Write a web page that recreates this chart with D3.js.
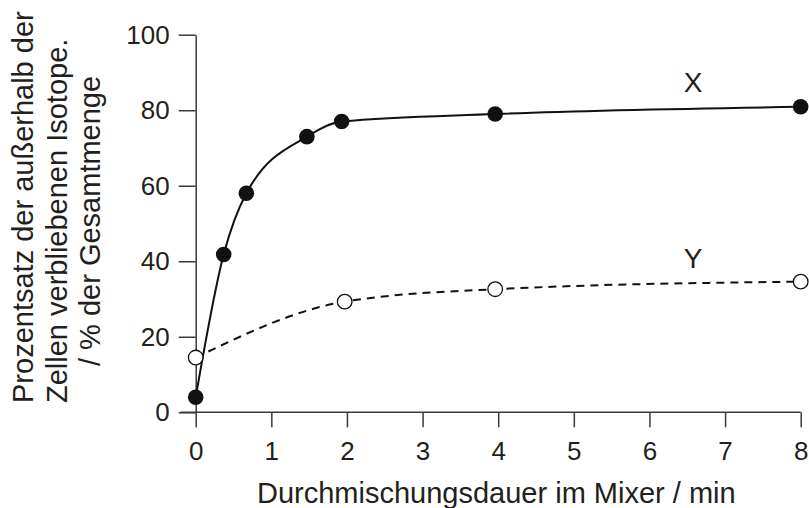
<!DOCTYPE html>
<html>
<head>
<meta charset="utf-8">
<script src="https://cdn.jsdelivr.net/npm/d3@7"></script>
<style>
  body { margin: 0; background: #fff; }
  svg text { font-family: "Liberation Sans", Arial, sans-serif; fill: #231f20; }
</style>
</head>
<body>
<div id="chart"></div>
<script>
// Data
var xTime = [0, 0.37, 0.67, 1.47, 1.93, 3.96, 8];
var xPercent = [4, 41.8, 58, 73, 77, 79, 80.9];
var yTime = [0, 1.97, 3.96, 8];
var yPercent = [14.5, 29.3, 32.6, 34.6];
var xTicks = [0, 1, 2, 3, 4, 5, 6, 7, 8];
var yTicks = [0, 20, 40, 60, 80, 100];
var yTitleLines = ["Prozentsatz der außerhalb der", "Zellen verbliebenen Isotope.", "/ % der Gesamtmenge"];
var xTitle = "Durchmischungsdauer im Mixer / min";

renderChart();

function renderChart() {
  var svgWidth = 809, svgHeight = 508;
  var plotLeft = 195.7, plotRight = 800.7, plotTop = 34.7, plotBottom = 412.3;

  var svg = d3.select("#chart")
    .append("svg")
    .attr("width", svgWidth)
    .attr("height", svgHeight);

  var xScale = d3.scaleLinear().domain([0, 8]).range([plotLeft, plotRight]);
  var yScale = d3.scaleLinear().domain([0, 100]).range([plotBottom, plotTop]);

  var axisColor = "#3a3a3a";

  // x axis
  var gx = svg.append("g")
    .attr("transform", "translate(0," + plotBottom + ")")
    .call(d3.axisBottom(xScale).tickValues(xTicks).tickSize(15).tickPadding(14).tickFormat(d3.format("d")));
  gx.select(".domain").remove();
  gx.append("line")
    .attr("x1", plotLeft - 15).attr("x2", plotRight)
    .attr("y1", 0).attr("y2", 0)
    .attr("stroke", axisColor).attr("stroke-width", 1.5);

  // y axis
  var gy = svg.append("g")
    .attr("transform", "translate(" + plotLeft + ",0)")
    .call(d3.axisLeft(yScale).tickValues(yTicks).tickSize(17).tickSizeOuter(0).tickPadding(9));

  svg.selectAll(".tick line").attr("stroke", axisColor).attr("stroke-width", 1.5);
  svg.selectAll(".domain").attr("stroke", axisColor).attr("stroke-width", 1.5);
  svg.selectAll(".tick text")
    .attr("font-family", null)
    .style("font-size", "26px")
    .attr("fill", "#231f20");

  // axis titles
  svg.append("text")
    .attr("x", 257)
    .attr("y", 503)
    .style("font-size", "29px")
    .text(xTitle);

  var titleX = [33, 67, 100];
  var titleStart = [403, 403, 366];
  yTitleLines.forEach(function(t, i) {
    svg.append("text")
      .attr("transform", "translate(" + titleX[i] + "," + titleStart[i] + ") rotate(-90)")
      .style("font-size", "29px")
      .text(t);
  });

  // series lines
  var lineX = d3.line()
    .x(function(d, i) { return xScale(xTime[i]); })
    .y(function(d, i) { return yScale(xPercent[i]); })
    .curve(d3.curveMonotoneX);

  var lineY = d3.line()
    .x(function(d, i) { return xScale(yTime[i]); })
    .y(function(d, i) { return yScale(yPercent[i]); })
    .curve(d3.curveMonotoneX);

  svg.append("path")
    .attr("d", lineY(yPercent))
    .attr("fill", "none")
    .attr("stroke", "#111")
    .attr("stroke-width", 2)
    .attr("stroke-dasharray", "8,6");

  svg.append("path")
    .attr("d", lineX(xPercent))
    .attr("fill", "none")
    .attr("stroke", "#111")
    .attr("stroke-width", 2);

  // points
  svg.selectAll("circle.open")
    .data(yPercent)
    .enter().append("circle")
      .attr("class", "open")
      .attr("cx", function(d, i) { return xScale(yTime[i]); })
      .attr("cy", function(d) { return yScale(d); })
      .attr("r", 7.3)
      .attr("fill", "#fff")
      .attr("stroke", "#111")
      .attr("stroke-width", 1.3);

  svg.selectAll("circle.filled")
    .data(xPercent)
    .enter().append("circle")
      .attr("class", "filled")
      .attr("cx", function(d, i) { return xScale(xTime[i]); })
      .attr("cy", function(d) { return yScale(d); })
      .attr("r", 7.8)
      .attr("fill", "#111");

  // series labels
  svg.append("text").attr("x", 693).attr("y", 92)
    .attr("text-anchor", "middle").style("font-size", "28px").text("X");
  svg.append("text").attr("x", 693).attr("y", 268)
    .attr("text-anchor", "middle").style("font-size", "28px").text("Y");
}
</script>
</body>
</html>
